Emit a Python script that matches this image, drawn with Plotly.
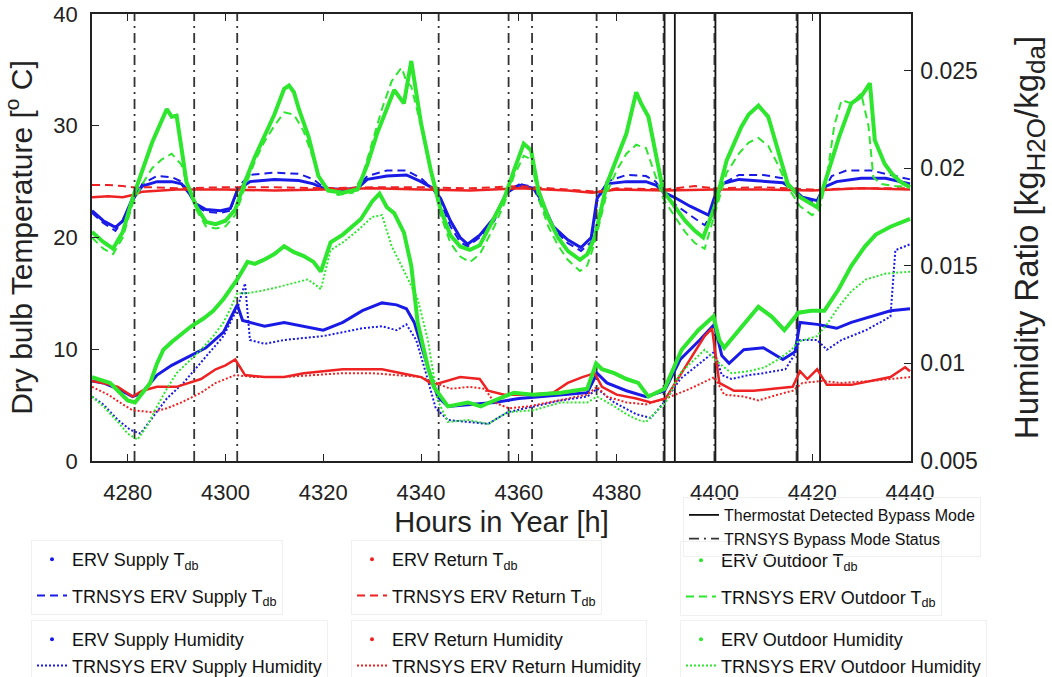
import plotly.graph_objects as go

# ---------------- dry-bulb temperatures [deg C] ----------------
sup_t_meas_h = [4272.7, 4275, 4277.5, 4279, 4281, 4283, 4286, 4289, 4291, 4292.5, 4294, 4296, 4299, 4301, 4302.5,
                4305, 4310, 4315, 4318, 4320, 4324, 4327, 4329, 4333, 4337, 4340, 4342.5, 4344, 4346, 4348, 4349.5,
                4352, 4355, 4357.5, 4360, 4363, 4364.5, 4367, 4370, 4372.7, 4374.8, 4376, 4378, 4382, 4386, 4388,
                4389.8, 4391.8, 4395, 4398.8, 4400, 4401.5, 4405, 4410, 4414, 4416.5, 4418, 4421, 4422.4, 4425,
                4430, 4435, 4440]
sup_t_meas = [22.4, 21.5, 20.9, 21.5, 23.5, 24.6, 25.0, 25.0, 24.8, 24.0, 23.0, 22.5, 22.4, 22.6, 24.3,
              25.0, 25.2, 25.1, 24.8, 24.4, 24.3, 24.4, 25.2, 25.5, 25.6, 25.0, 24.4, 23.5, 21.5, 20.0, 19.4,
              20.2, 21.8, 24.0, 24.7, 24.4, 23.4, 21.0, 19.8, 19.1, 20.0, 23.5, 24.8, 25.0, 25.0, 24.7,
              24.0, 23.6, 22.8, 22.0, 23.6, 24.8, 25.2, 25.0, 24.9, 24.2, 23.6, 23.3, 24.5, 25.0,
              25.3, 25.3, 24.8]

sup_t_sim_h = [4272.7, 4275, 4277.5, 4279, 4281, 4283, 4286, 4289, 4291, 4292.5, 4294, 4296, 4299, 4301, 4302.5,
               4305, 4310, 4315, 4318, 4320, 4324, 4327, 4329, 4333, 4337, 4340, 4342.5, 4344, 4346, 4348, 4349.5,
               4352, 4355, 4357.5, 4360, 4363, 4364.5, 4367, 4370, 4372.7, 4374.8, 4376, 4378, 4382, 4386, 4388,
               4389.8, 4391.8, 4395, 4398, 4400, 4401.5, 4405, 4410, 4414, 4416.5, 4418, 4421, 4422.4, 4424,
               4427, 4432, 4436, 4440]
sup_t_sim = [22.2, 21.3, 20.6, 21.5, 23.2, 24.8, 25.5, 25.4, 25.0, 24.0, 22.8, 22.3, 22.2, 22.4, 24.5,
             25.6, 25.8, 25.7, 25.2, 24.5, 24.3, 24.5, 25.5, 26.0, 26.0, 25.3, 24.3, 23.2, 21.0, 19.6, 19.2,
             20.0, 21.5, 24.0, 24.8, 24.5, 23.0, 20.8, 19.5, 18.8, 19.6, 23.2, 25.0, 25.6, 25.5, 25.0,
             23.8, 23.0, 22.0, 21.1, 22.5, 24.8, 25.6, 25.6, 25.3, 24.2, 23.5, 23.0, 24.3, 25.5,
             26.0, 26.0, 25.6, 25.2]

ret_t_meas_h = [4272.7, 4276, 4279, 4281, 4283, 4290, 4300, 4310, 4320, 4330, 4340, 4350, 4360, 4370, 4375,
                4380, 4390, 4400, 4410, 4420, 4430, 4440]
ret_t_meas = [23.6, 23.7, 23.6, 23.8, 24.1, 24.3, 24.3, 24.2, 24.3, 24.4, 24.3, 24.2, 24.4, 24.2, 24.0,
              24.3, 24.2, 24.3, 24.3, 24.2, 24.4, 24.3]

ret_t_sim_h = [4272.7, 4276, 4279, 4281, 4285, 4290, 4300, 4310, 4320, 4330, 4340, 4350, 4360, 4370, 4376,
               4380, 4390, 4396, 4400, 4410, 4420, 4430, 4440]
ret_t_sim = [24.7, 24.7, 24.6, 24.5, 24.5, 24.4, 24.5, 24.5, 24.4, 24.5, 24.5, 24.4, 24.6, 24.3, 24.1,
             24.4, 24.3, 24.6, 24.4, 24.5, 24.3, 24.4, 24.4]

out_t_meas_h = [4272.7, 4275, 4277, 4279, 4281, 4283, 4285, 4287, 4288, 4289, 4290, 4291, 4292, 4294, 4296,
                4298, 4300, 4302, 4304, 4306, 4308, 4310, 4312, 4313, 4314, 4315, 4317, 4319, 4321, 4324,
                4327, 4329, 4331, 4333, 4334.5, 4336.5, 4338, 4339, 4340, 4342, 4344, 4346, 4348, 4350,
                4352, 4355, 4357, 4359, 4361, 4362.5, 4364, 4366, 4368, 4370, 4372.5, 4374, 4375.5, 4378,
                4380, 4382, 4384, 4385, 4386.5, 4388, 4389.5, 4392, 4394, 4396, 4397.7, 4400, 4402.5,
                4405.5, 4407, 4409, 4411, 4413, 4415, 4417.5, 4421, 4422.5, 4425.5, 4428, 4430, 4431.8,
                4432.8, 4434.8, 4436.3, 4438, 4440]
out_t_meas = [20.5, 19.6, 19.0, 20.5, 23.5, 26.0, 28.5, 30.5, 31.5, 30.8, 30.9, 28.0, 25.0, 22.8, 21.4,
              21.2, 21.5, 22.5, 25.0, 27.2, 29.0, 31.0, 33.3, 33.6, 33.0, 31.5, 29.0, 25.5, 24.2, 24.0,
              24.3, 26.5, 29.3, 31.5, 33.2, 32.0, 35.8, 33.0, 30.2, 26.0, 22.5, 20.2, 19.2, 18.9,
              19.3, 21.8, 23.5, 26.0, 28.4, 27.8, 24.2, 21.8, 20.0, 18.8, 18.0, 18.5, 20.0, 24.8,
              27.0, 29.3, 33.0, 32.0, 30.8, 27.5, 24.2, 22.7, 21.5, 20.6, 20.0, 22.7, 26.9,
              29.9, 31.0, 31.8, 30.8, 27.8, 24.8, 23.6, 22.7, 24.8, 29.0, 32.0, 32.6, 33.8,
              28.7, 26.6, 25.7, 25.0, 24.5]

out_t_sim_h = [4272.7, 4275, 4277, 4279, 4281, 4283, 4285, 4287, 4289, 4291, 4292, 4294, 4296, 4298, 4300,
               4302, 4304, 4306, 4308, 4310, 4312, 4314, 4316, 4318, 4320, 4323, 4326, 4328, 4330, 4332,
               4334, 4336, 4337, 4338, 4340, 4342, 4344, 4346, 4348, 4350, 4352, 4355, 4357, 4359, 4361,
               4362.5, 4364, 4366, 4368, 4370, 4372.5, 4374, 4375.5, 4378, 4380, 4382, 4384, 4386, 4388,
               4389.5, 4392, 4394, 4396, 4398, 4400, 4402.5, 4405, 4407, 4409, 4411, 4413, 4415, 4417.5,
               4420, 4421.5, 4423, 4424.5, 4426, 4428, 4430, 4431.5, 4432.5, 4434, 4437, 4440]
out_t_sim = [20.0, 19.0, 18.5, 20.0, 23.0, 24.8, 26.2, 27.0, 27.5, 26.5, 25.0, 22.5, 21.0, 20.8, 21.0,
             22.0, 24.5, 26.8, 28.6, 30.0, 31.2, 31.0, 29.5, 27.0, 24.5, 23.8, 24.0, 25.5, 28.5, 31.5,
             34.0, 35.2, 34.0, 33.5, 30.0, 26.0, 22.0, 19.5, 18.3, 17.8, 18.5, 21.0, 23.0, 25.5, 27.3,
             27.0, 23.5, 21.0, 19.3, 18.0, 17.0, 17.5, 19.5, 24.0, 26.0, 27.5, 28.3, 28.0, 25.5,
             23.5, 21.8, 20.5, 19.5, 19.0, 22.0, 25.8, 27.5, 28.5, 28.9, 28.2, 26.5, 24.5, 22.8,
             22.0, 22.5, 25.4, 30.0, 32.3, 32.0, 32.9, 30.0, 25.4, 24.8, 24.6, 24.5]

# ---------------- humidity ratios [kg_H2O / kg_da] ----------------
sup_w_meas_h = [4272.7, 4275, 4278, 4281, 4283, 4286, 4289, 4292, 4296, 4299.6, 4302.4, 4303.5, 4305, 4308,
                4312, 4316, 4320, 4324, 4328, 4332, 4335, 4337, 4338.6, 4341.4, 4343.4, 4345.5, 4350, 4355,
                4360, 4365, 4370, 4374, 4376, 4378, 4382, 4386, 4389.8, 4393, 4397, 4400, 4401.5, 4403,
                4406, 4410, 4414, 4416.5, 4417.5, 4421, 4423, 4425, 4428, 4432, 4436, 4440]
sup_w_meas = [0.0091, 0.0090, 0.0087, 0.0083, 0.0085, 0.0094, 0.0099, 0.0103, 0.0108, 0.0116, 0.0130, 0.0122, 0.0121, 0.0119,
              0.0121, 0.0119, 0.0117, 0.0121, 0.0127, 0.0131, 0.0130, 0.0128, 0.0121, 0.0098, 0.0083, 0.0078, 0.0079, 0.0080,
              0.0082, 0.0083, 0.0084, 0.0085, 0.0095, 0.0090, 0.0086, 0.0083, 0.0086, 0.0102, 0.0112, 0.0120, 0.0104, 0.0100,
              0.0107, 0.0108, 0.0102, 0.0106, 0.0121, 0.0120, 0.0119, 0.0118, 0.0121, 0.0124, 0.0127, 0.0128]

sup_w_sim_h = [4272.7, 4275, 4278, 4280.5, 4282.6, 4285, 4288, 4291.4, 4295.5, 4299.6, 4302.4, 4304, 4305, 4308,
               4312, 4316, 4320, 4324, 4328, 4332, 4335, 4337, 4339, 4341, 4343, 4345.5, 4349, 4353.7, 4357.7,
               4363, 4368.6, 4374, 4376, 4379.5, 4384, 4387, 4390, 4393, 4397, 4400, 4401.5, 4403.5, 4407,
               4410, 4414.5, 4416.5, 4417.5, 4421, 4423, 4426, 4431, 4436, 4437, 4440]
sup_w_sim = [0.0083, 0.0079, 0.0071, 0.0066, 0.0064, 0.0072, 0.0082, 0.0090, 0.0102, 0.0114, 0.0128, 0.0141, 0.0112, 0.0110,
             0.0112, 0.0113, 0.0114, 0.0116, 0.0118, 0.0119, 0.0117, 0.0120, 0.0112, 0.0095, 0.0077, 0.0071, 0.0070, 0.0069, 0.0075,
             0.0078, 0.0081, 0.0083, 0.0087, 0.0080, 0.0074, 0.0072, 0.0081, 0.0092, 0.0100, 0.0106, 0.0094, 0.0092, 0.0094,
             0.0095, 0.0097, 0.0105, 0.0112, 0.0112, 0.0107, 0.0112, 0.0117, 0.0124, 0.0158, 0.0161]

ret_w_meas_h = [4272.7, 4275, 4278, 4281, 4283, 4286, 4290, 4295, 4298, 4300, 4302, 4304, 4308, 4312, 4316,
                4320, 4324, 4328, 4332, 4336, 4340, 4342.5, 4345, 4348, 4352, 4353.7, 4357, 4362, 4367, 4370,
                4373, 4375.5, 4377, 4380, 4384, 4387, 4390, 4393, 4396, 4398, 4399.5, 4401, 4404, 4408,
                4412, 4416, 4417.5, 4419, 4421, 4423, 4428, 4432, 4436, 4439, 4440]
ret_w_meas = [0.0091, 0.0090, 0.0088, 0.0083, 0.0086, 0.0088, 0.0088, 0.0092, 0.0097, 0.0099, 0.0102, 0.0094, 0.0093, 0.0093, 0.0095,
              0.0096, 0.0097, 0.0097, 0.0097, 0.0095, 0.0093, 0.0089, 0.0091, 0.0093, 0.0092, 0.0086, 0.0084, 0.0084, 0.0085, 0.0090,
              0.0093, 0.0095, 0.0088, 0.0084, 0.0082, 0.0080, 0.0082, 0.0094, 0.0106, 0.0114, 0.0118, 0.0090, 0.0086, 0.0086,
              0.0087, 0.0088, 0.0096, 0.0092, 0.0097, 0.0089, 0.0089, 0.0091, 0.0093, 0.0098, 0.0096]

ret_w_sim_h = [4272.7, 4276, 4279, 4281, 4285, 4288, 4291, 4295, 4298, 4302, 4306, 4312, 4318, 4324, 4330,
               4336, 4340, 4343, 4346, 4350, 4353, 4355, 4358, 4362, 4366, 4370, 4374, 4376, 4378, 4382,
               4386, 4390, 4395, 4400, 4402, 4406, 4409, 4413, 4416, 4418, 4422, 4426, 4432, 4440]
ret_w_sim = [0.0088, 0.0084, 0.0079, 0.0076, 0.0075, 0.0077, 0.0080, 0.0085, 0.0090, 0.0094, 0.0093, 0.0093, 0.0094, 0.0095, 0.0095,
             0.0094, 0.0093, 0.0090, 0.0087, 0.0088, 0.0087, 0.0080, 0.0077, 0.0078, 0.0080, 0.0082, 0.0084, 0.0088, 0.0083, 0.0080,
             0.0079, 0.0082, 0.0087, 0.0093, 0.0084, 0.0083, 0.0081, 0.0084, 0.0086, 0.0090, 0.0091, 0.0090, 0.0091, 0.0093]

out_w_meas_h = [4272.7, 4274, 4276.4, 4278, 4280, 4281.5, 4283, 4284.6, 4286, 4287.3, 4289, 4291.4, 4293, 4295.5,
                4297.5, 4299.6, 4301, 4302.4, 4304.5, 4306, 4307.8, 4310, 4312, 4314, 4316, 4318, 4319.5, 4321.5,
                4324, 4327.7, 4330, 4331.5, 4333, 4334.5, 4336.5, 4338, 4339.3, 4341.4, 4342.6, 4345.5, 4349.6,
                4352.2, 4355, 4359, 4363, 4368.6, 4374, 4375.8, 4377, 4379.5, 4382, 4384.4, 4386.5, 4389.8,
                4393.3, 4396.7, 4399.8, 4401, 4402, 4404.9, 4409, 4411.7, 4414.3, 4417.2, 4419.8, 4422.5,
                4425.4, 4428, 4430.8, 4433, 4436, 4440]
out_w_meas = [0.0093, 0.0092, 0.0090, 0.0086, 0.0081, 0.0080, 0.0085, 0.0090, 0.0100, 0.0107, 0.0111, 0.0116, 0.0119, 0.0123,
              0.0127, 0.0133, 0.0138, 0.0143, 0.0152, 0.0151, 0.0153, 0.0156, 0.0160, 0.0157, 0.0155, 0.0152, 0.0147, 0.0162,
              0.0166, 0.0174, 0.0183, 0.0187, 0.0180, 0.0177, 0.0167, 0.0150, 0.0121, 0.0098, 0.0088, 0.0078, 0.0080,
              0.0078, 0.0081, 0.0085, 0.0084, 0.0085, 0.0087, 0.0100, 0.0097, 0.0095, 0.0092, 0.0090, 0.0083, 0.0087,
              0.0107, 0.0117, 0.0124, 0.0112, 0.0108, 0.0117, 0.0129, 0.0124, 0.0117, 0.0126, 0.0127, 0.0127,
              0.0138, 0.0150, 0.0160, 0.0166, 0.0170, 0.0174]

out_w_sim_h = [4272.7, 4275, 4278, 4280, 4282, 4284, 4286, 4288, 4290, 4292.5, 4295, 4297.5, 4299.6, 4301,
               4302.4, 4304.5, 4307, 4310.6, 4314, 4316.8, 4318, 4319.5, 4321.5, 4324, 4327, 4330, 4332, 4334,
               4336, 4338, 4339.3, 4341.4, 4343.4, 4345.5, 4349.6, 4353.7, 4357.7, 4363, 4368.6, 4374, 4376,
               4379.5, 4382, 4384.4, 4386, 4390, 4393, 4398, 4401, 4403.5, 4407, 4410.3, 4413, 4415.8, 4417,
               4421, 4423, 4425.4, 4428, 4431, 4435, 4440]
out_w_sim = [0.0083, 0.0078, 0.0070, 0.0064, 0.0061, 0.0068, 0.0078, 0.0087, 0.0095, 0.0101, 0.0107, 0.0114, 0.0121, 0.0128,
             0.0136, 0.0136, 0.0137, 0.0139, 0.0141, 0.0143, 0.0141, 0.0138, 0.0158, 0.0162, 0.0168, 0.0175, 0.0176, 0.0160,
             0.0150, 0.0140, 0.0133, 0.0112, 0.0081, 0.0070, 0.0071, 0.0069, 0.0075, 0.0076, 0.0080, 0.0080, 0.0083,
             0.0078, 0.0074, 0.0071, 0.0070, 0.0080, 0.0095, 0.0107, 0.0100, 0.0095, 0.0096, 0.0098, 0.0102, 0.0107, 0.0111,
             0.0114, 0.0120, 0.0129, 0.0137, 0.0143, 0.0146, 0.0147]

# ---------------- bypass events [h] ----------------
thermostat_bypass_h = [4389.8, 4391.9, 4400.2, 4417.0, 4421.6]
trnsys_bypass_h = [4281.4, 4293.6, 4302.4, 4343.6, 4357.9, 4362.7, 4375.9, 4389.6, 4400.0, 4416.8]

x_ticks = [4280, 4300, 4320, 4340, 4360, 4380, 4400, 4420, 4440]
t_ticks = [0, 10, 20, 30, 40]
w_ticks = [0.005, 0.01, 0.015, 0.02, 0.025]
T_RANGE = [0, 40]
W_RANGE = [0.005, 0.0279]

BLUE = "#1a1ae6"
RED = "#ee2222"
GREEN = "#2ee62e"
FONT = "Liberation Sans, Arial, sans-serif"
INK = "#222222"

# plot-area geometry (px) used to place the legend blocks under the axes
W_FIG, H_FIG = 1052, 677
M_L, M_R, M_T, M_B = 92, 141, 14, 216
PW, PH = W_FIG - M_L - M_R, H_FIG - M_T - M_B


def legend_at(px, py, gap=0, size=18):
    return dict(x=(px - M_L) / PW, y=(H_FIG - M_B - py) / PH, xref="paper", yref="paper",
                xanchor="left", yanchor="top", bgcolor="rgba(0,0,0,0)", bordercolor="#f0f0f0",
                borderwidth=1, itemwidth=30, tracegroupgap=gap, traceorder="grouped",
                font=dict(family=FONT, size=size, color="#111111"))


fig = go.Figure()


def vlines(hours):
    xs, ys = [], []
    for h in hours:
        xs += [h, h, None]
        ys += [T_RANGE[0], T_RANGE[1], None]
    return xs, ys


def add_pair(h_meas, v_meas, h_sim, v_sim, color, name_meas, name_sim, dash, legend, axis,
             meas_width, sim_width):
    # measured record drawn as a heavy trace, its legend entry shows a dot
    fig.add_trace(go.Scatter(x=h_meas, y=v_meas, mode="lines", yaxis=axis,
                             line=dict(color=color, width=meas_width), showlegend=False,
                             hoverinfo="skip"))
    fig.add_trace(go.Scatter(x=[None], y=[None], mode="markers", yaxis=axis, name=name_meas,
                             marker=dict(color=color, size=4), legend=legend,
                             legendgroup=name_meas))
    fig.add_trace(go.Scatter(x=h_sim, y=v_sim, mode="lines", yaxis=axis, name=name_sim,
                             line=dict(color=color, width=sim_width, dash=dash), legend=legend,
                             legendgroup=name_sim, hoverinfo="skip"))


# humidity (right axis)
add_pair(sup_w_meas_h, sup_w_meas, sup_w_sim_h, sup_w_sim, BLUE, "ERV Supply Humidity",
         "TRNSYS ERV Supply Humidity", "2px,2px", "legend4", "y2", 3, 2)
add_pair(ret_w_meas_h, ret_w_meas, ret_w_sim_h, ret_w_sim, RED, "ERV Return Humidity",
         "TRNSYS ERV Return Humidity", "2px,2px", "legend5", "y2", 2.5, 2)
add_pair(out_w_meas_h, out_w_meas, out_w_sim_h, out_w_sim, GREEN, "ERV Outdoor Humidity",
         "TRNSYS ERV Outdoor Humidity", "2px,2px", "legend6", "y2", 4, 2)

# dry-bulb (left axis)
add_pair(sup_t_meas_h, sup_t_meas, sup_t_sim_h, sup_t_sim, BLUE, "ERV Supply T<sub>db</sub>",
         "TRNSYS ERV Supply T<sub>db</sub>", "8px,5px", "legend", "y", 3, 2)
add_pair(ret_t_meas_h, ret_t_meas, ret_t_sim_h, ret_t_sim, RED, "ERV Return T<sub>db</sub>",
         "TRNSYS ERV Return T<sub>db</sub>", "8px,5px", "legend2", "y", 2.5, 2)
add_pair(out_t_meas_h, out_t_meas, out_t_sim_h, out_t_sim, GREEN, "ERV Outdoor T<sub>db</sub>",
         "TRNSYS ERV Outdoor T<sub>db</sub>", "8px,5px", "legend3", "y", 4, 2)

# bypass mode markers
bx, by = vlines(thermostat_bypass_h)
fig.add_trace(go.Scatter(x=bx, y=by, mode="lines", yaxis="y", name="Thermostat Detected Bypass Mode",
                         line=dict(color="#111111", width=1.8), legend="legend7",
                         legendgroup="thermostat", hoverinfo="skip"))
tx, ty = vlines(trnsys_bypass_h)
fig.add_trace(go.Scatter(x=tx, y=ty, mode="lines", yaxis="y", name="TRNSYS Bypass Mode Status",
                         line=dict(color="#333333", width=1.8, dash="10px,5px,2px,5px"),
                         legend="legend7", legendgroup="trnsys", hoverinfo="skip"))

axis_common = dict(showgrid=False, zeroline=False, showline=True, linecolor=INK, linewidth=1.5,
                   ticks="inside", ticklen=7, tickwidth=1.2, tickcolor=INK, automargin=False)

fig.update_layout(
    template="none",
    width=W_FIG, height=H_FIG,
    margin=dict(l=M_L, r=M_R, t=M_T, b=M_B, pad=0, autoexpand=False),
    paper_bgcolor="white", plot_bgcolor="white",
    showlegend=True,
    xaxis=dict(range=[4272.7, 4440.2], tickvals=x_ticks, mirror="ticks", ticklabelstandoff=11,
               tickfont=dict(family=FONT, size=22, color=INK),
               title=dict(text="Hours in Year [h]", standoff=8,
                          font=dict(family=FONT, size=29, color=INK)),
               **axis_common),
    yaxis=dict(range=T_RANGE, tickvals=t_ticks, ticklabelstandoff=8,
               tickfont=dict(family=FONT, size=22, color=INK),
               title=dict(text="Dry bulb Temperature [<sup>o</sup> C]", standoff=12,
                          font=dict(family=FONT, size=30, color=INK)),
               **axis_common),
    yaxis2=dict(range=W_RANGE, tickvals=w_ticks, overlaying="y", side="right", ticklabelstandoff=3,
                tickfont=dict(family=FONT, size=23, color=INK),
                title=dict(text="Humidity Ratio [kg<sub><span style='font-size:26px'>H2O</span></sub>"
                                "/kg<sub><span style='font-size:26px'>da</span></sub>]",
                           standoff=38, font=dict(family=FONT, size=33, color=INK)),
                **axis_common),
    legend=legend_at(31, 540, gap=10),
    legend2=legend_at(351, 540, gap=10),
    legend3=legend_at(680, 541, gap=10),
    legend4=legend_at(31, 620),
    legend5=legend_at(351, 620),
    legend6=legend_at(680, 620),
    legend7=legend_at(683, 497, size=16),
)

fig.write_html("out.html")
